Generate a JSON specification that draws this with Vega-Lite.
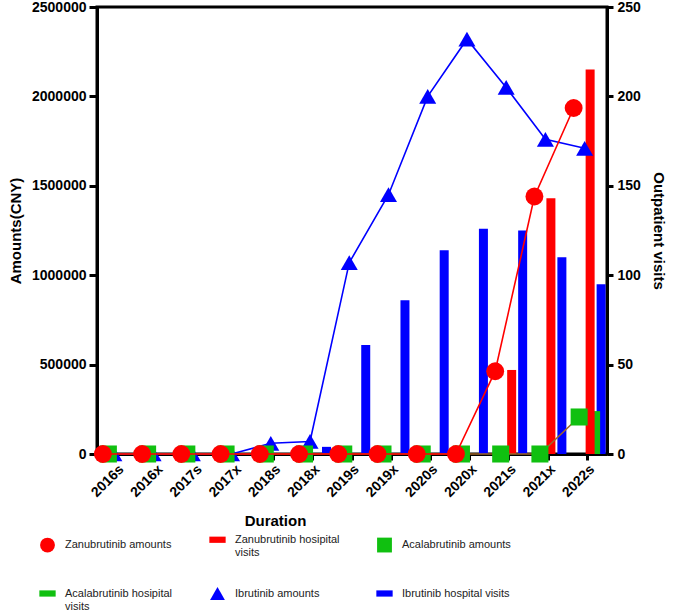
{
  "$schema": "https://vega.github.io/schema/vega-lite/v6.json",
  "width": 510,
  "height": 447,
  "autosize": {"type": "none"},
  "padding": {"left": 97, "top": 7, "right": 66, "bottom": 158},
  "background": "white",
  "config": {
    "view": {"stroke": "black", "strokeWidth": 3},
    "font": "Liberation Sans",
    "axis": {
      "domainColor": "black", "domainWidth": 3, "tickColor": "black", "tickWidth": 3,
      "labelFont": "Liberation Sans", "labelFontWeight": "bold", "labelFontSize": 14, "labelColor": "black",
      "titleFont": "Liberation Sans", "titleFontWeight": "bold", "titleFontSize": 15, "titleColor": "black",
      "grid": false
    },
    "legend": {
      "orient": "none", "legendX": -57, "legendY": 525, "columns": 3, "direction": "horizontal",
      "symbolSize": 220, "symbolStrokeWidth": 0,
      "labelFont": "Liberation Sans", "labelFontSize": 11, "labelColor": "#222",
      "labelOffset": 10, "columnPadding": 36, "rowPadding": 28, "padding": 0, "labelLimit": 200
    }
  },
  "datasets": {
    "visits": [
      {"period": "2016s", "series": "Ibrutinib hospital visits", "visits": 0},
      {"period": "2016x", "series": "Ibrutinib hospital visits", "visits": 0},
      {"period": "2017s", "series": "Ibrutinib hospital visits", "visits": 0},
      {"period": "2017x", "series": "Ibrutinib hospital visits", "visits": 0},
      {"period": "2018s", "series": "Ibrutinib hospital visits", "visits": 0},
      {"period": "2018x", "series": "Ibrutinib hospital visits", "visits": 4},
      {"period": "2019s", "series": "Ibrutinib hospital visits", "visits": 61},
      {"period": "2019x", "series": "Ibrutinib hospital visits", "visits": 86},
      {"period": "2020s", "series": "Ibrutinib hospital visits", "visits": 114},
      {"period": "2020x", "series": "Ibrutinib hospital visits", "visits": 126},
      {"period": "2021s", "series": "Ibrutinib hospital visits", "visits": 125},
      {"period": "2021x", "series": "Ibrutinib hospital visits", "visits": 110},
      {"period": "2022s", "series": "Ibrutinib hospital visits", "visits": 95},
      {"period": "2022s", "series": "Acalabrutinib hosipital visits", "visits": 24},
      {"period": "2021s", "series": "Zanubrutinib hosipital visits", "visits": 47},
      {"period": "2021x", "series": "Zanubrutinib hosipital visits", "visits": 143},
      {"period": "2022s", "series": "Zanubrutinib hosipital visits", "visits": 215}
    ],
    "amounts": [
      {"period": "2016s", "series": "Ibrutinib amounts", "amount": 0},
      {"period": "2016x", "series": "Ibrutinib amounts", "amount": 0},
      {"period": "2017s", "series": "Ibrutinib amounts", "amount": 0},
      {"period": "2017x", "series": "Ibrutinib amounts", "amount": 0},
      {"period": "2018s", "series": "Ibrutinib amounts", "amount": 60000},
      {"period": "2018x", "series": "Ibrutinib amounts", "amount": 70000},
      {"period": "2019s", "series": "Ibrutinib amounts", "amount": 1070000},
      {"period": "2019x", "series": "Ibrutinib amounts", "amount": 1450000},
      {"period": "2020s", "series": "Ibrutinib amounts", "amount": 2000000},
      {"period": "2020x", "series": "Ibrutinib amounts", "amount": 2320000},
      {"period": "2021s", "series": "Ibrutinib amounts", "amount": 2050000},
      {"period": "2021x", "series": "Ibrutinib amounts", "amount": 1760000},
      {"period": "2022s", "series": "Ibrutinib amounts", "amount": 1710000},
      {"period": "2016s", "series": "Acalabrutinib amounts", "amount": 0},
      {"period": "2016x", "series": "Acalabrutinib amounts", "amount": 0},
      {"period": "2017s", "series": "Acalabrutinib amounts", "amount": 0},
      {"period": "2017x", "series": "Acalabrutinib amounts", "amount": 0},
      {"period": "2018s", "series": "Acalabrutinib amounts", "amount": 0},
      {"period": "2018x", "series": "Acalabrutinib amounts", "amount": 0},
      {"period": "2019s", "series": "Acalabrutinib amounts", "amount": 0},
      {"period": "2019x", "series": "Acalabrutinib amounts", "amount": 0},
      {"period": "2020s", "series": "Acalabrutinib amounts", "amount": 0},
      {"period": "2020x", "series": "Acalabrutinib amounts", "amount": 0},
      {"period": "2021s", "series": "Acalabrutinib amounts", "amount": 0},
      {"period": "2021x", "series": "Acalabrutinib amounts", "amount": 0},
      {"period": "2022s", "series": "Acalabrutinib amounts", "amount": 207000},
      {"period": "2016s", "series": "Zanubrutinib amounts", "amount": 0},
      {"period": "2016x", "series": "Zanubrutinib amounts", "amount": 0},
      {"period": "2017s", "series": "Zanubrutinib amounts", "amount": 0},
      {"period": "2017x", "series": "Zanubrutinib amounts", "amount": 0},
      {"period": "2018s", "series": "Zanubrutinib amounts", "amount": 0},
      {"period": "2018x", "series": "Zanubrutinib amounts", "amount": 0},
      {"period": "2019s", "series": "Zanubrutinib amounts", "amount": 0},
      {"period": "2019x", "series": "Zanubrutinib amounts", "amount": 0},
      {"period": "2020s", "series": "Zanubrutinib amounts", "amount": 0},
      {"period": "2020x", "series": "Zanubrutinib amounts", "amount": 0},
      {"period": "2021s", "series": "Zanubrutinib amounts", "amount": 463000},
      {"period": "2021x", "series": "Zanubrutinib amounts", "amount": 1440000},
      {"period": "2022s", "series": "Zanubrutinib amounts", "amount": 1935000}
    ]
  },
  "encoding": {
    "x": {
      "field": "period", "type": "nominal", "sort": null,
      "scale": {"domain": ["2016s","2016x","2017s","2017x","2018s","2018x","2019s","2019x","2020s","2020x","2021s","2021x","2022s"], "paddingInner": 0.16, "paddingOuter": 0.08},
      "axis": {"title": "Duration", "labelAngle": -45, "tickSize": 6, "labelPadding": 2, "titleX": 178, "titleY": 59, "titleBaseline": "top"}
    },
    "xOffset": {
      "field": "series", "type": "nominal",
      "scale": {"domain": ["Zanubrutinib amounts","Acalabrutinib amounts","Ibrutinib amounts","Zanubrutinib hosipital visits","Acalabrutinib hosipital visits","Ibrutinib hospital visits"], "paddingInner": 0, "paddingOuter": 0}
    }
  },
  "layer": [
    {
      "data": {"name": "visits"},
      "mark": {"type": "bar", "width": 9},
      "encoding": {
        "y": {"field": "visits", "type": "quantitative", "scale": {"domain": [0, 250], "nice": false},
          "axis": {"orient": "right", "title": "Outpatient visits", "values": [0,50,100,150,200,250], "tickSize": 6, "labelPadding": 4, "titlePadding": 10}},
        "color": {"field": "series", "type": "nominal", "title": null,
          "legend": {"labelExpr": "datum.label == 'Zanubrutinib hosipital visits' ? ['Zanubrutinib hosipital', 'visits'] : datum.label == 'Acalabrutinib hosipital visits' ? ['Acalabrutinib hosipital', 'visits'] : datum.label"},
          "scale": {"domain": ["Zanubrutinib amounts","Zanubrutinib hosipital visits","Acalabrutinib amounts","Acalabrutinib hosipital visits","Ibrutinib amounts","Ibrutinib hospital visits"],
                    "range": ["#ff0000","#ff0000","#10c010","#10c010","#0000ff","#0000ff"]}}
      }
    },
    {
      "data": {"name": "amounts"},
      "encoding": {
        "y": {"field": "amount", "type": "quantitative", "scale": {"domain": [0, 2500000], "nice": false},
          "axis": {"orient": "left", "title": "Amounts(CNY)", "values": [0,500000,1000000,1500000,2000000,2500000], "format": "d", "tickSize": 8, "labelPadding": 3, "titlePadding": 8}}
      },
      "layer": [
        {
          "transform": [{"filter": "datum.series != 'Zanubrutinib amounts'"}],
          "mark": {"type": "line", "strokeWidth": 1.6},
          "encoding": {
            "stroke": {"field": "series", "type": "nominal", "legend": null,
              "scale": {"domain": ["Zanubrutinib amounts","Acalabrutinib amounts","Ibrutinib amounts"], "range": ["#ff0000","#a0662a","#0000ff"]}}
          }
        },
        {
          "transform": [{"filter": "datum.series != 'Zanubrutinib amounts'"}],
          "mark": {"type": "point", "filled": true, "opacity": 1, "size": 290},
          "encoding": {
            "color": {"field": "series", "type": "nominal", "title": null,
              "legend": {"labelExpr": "datum.label == 'Zanubrutinib hosipital visits' ? ['Zanubrutinib hosipital', 'visits'] : datum.label == 'Acalabrutinib hosipital visits' ? ['Acalabrutinib hosipital', 'visits'] : datum.label"}},
            "shape": {"field": "series", "type": "nominal", "title": null,
              "legend": {"labelExpr": "datum.label == 'Zanubrutinib hosipital visits' ? ['Zanubrutinib hosipital', 'visits'] : datum.label == 'Acalabrutinib hosipital visits' ? ['Acalabrutinib hosipital', 'visits'] : datum.label"},
              "scale": {"domain": ["Zanubrutinib amounts","Zanubrutinib hosipital visits","Acalabrutinib amounts","Acalabrutinib hosipital visits","Ibrutinib amounts","Ibrutinib hospital visits"],
                        "range": ["circle","M-1.1,-0.42H1.1V0.42H-1.1Z","square","M-1.1,-0.42H1.1V0.42H-1.1Z","triangle-up","M-1.1,-0.42H1.1V0.42H-1.1Z"]}}
          }
        },
        {
          "transform": [{"filter": "datum.series == 'Zanubrutinib amounts'"}],
          "mark": {"type": "line", "strokeWidth": 1.6},
          "encoding": {
            "stroke": {"field": "series", "type": "nominal", "legend": null}
          }
        },
        {
          "transform": [{"filter": "datum.series == 'Zanubrutinib amounts'"}],
          "mark": {"type": "point", "filled": true, "opacity": 1, "size": 320},
          "encoding": {
            "color": {"field": "series", "type": "nominal", "title": null,
              "legend": {"labelExpr": "datum.label == 'Zanubrutinib hosipital visits' ? ['Zanubrutinib hosipital', 'visits'] : datum.label == 'Acalabrutinib hosipital visits' ? ['Acalabrutinib hosipital', 'visits'] : datum.label"}},
            "shape": {"field": "series", "type": "nominal", "title": null,
              "legend": {"labelExpr": "datum.label == 'Zanubrutinib hosipital visits' ? ['Zanubrutinib hosipital', 'visits'] : datum.label == 'Acalabrutinib hosipital visits' ? ['Acalabrutinib hosipital', 'visits'] : datum.label"}}
          }
        }
      ]
    }
  ],
  "resolve": {"scale": {"y": "independent"}}
}
